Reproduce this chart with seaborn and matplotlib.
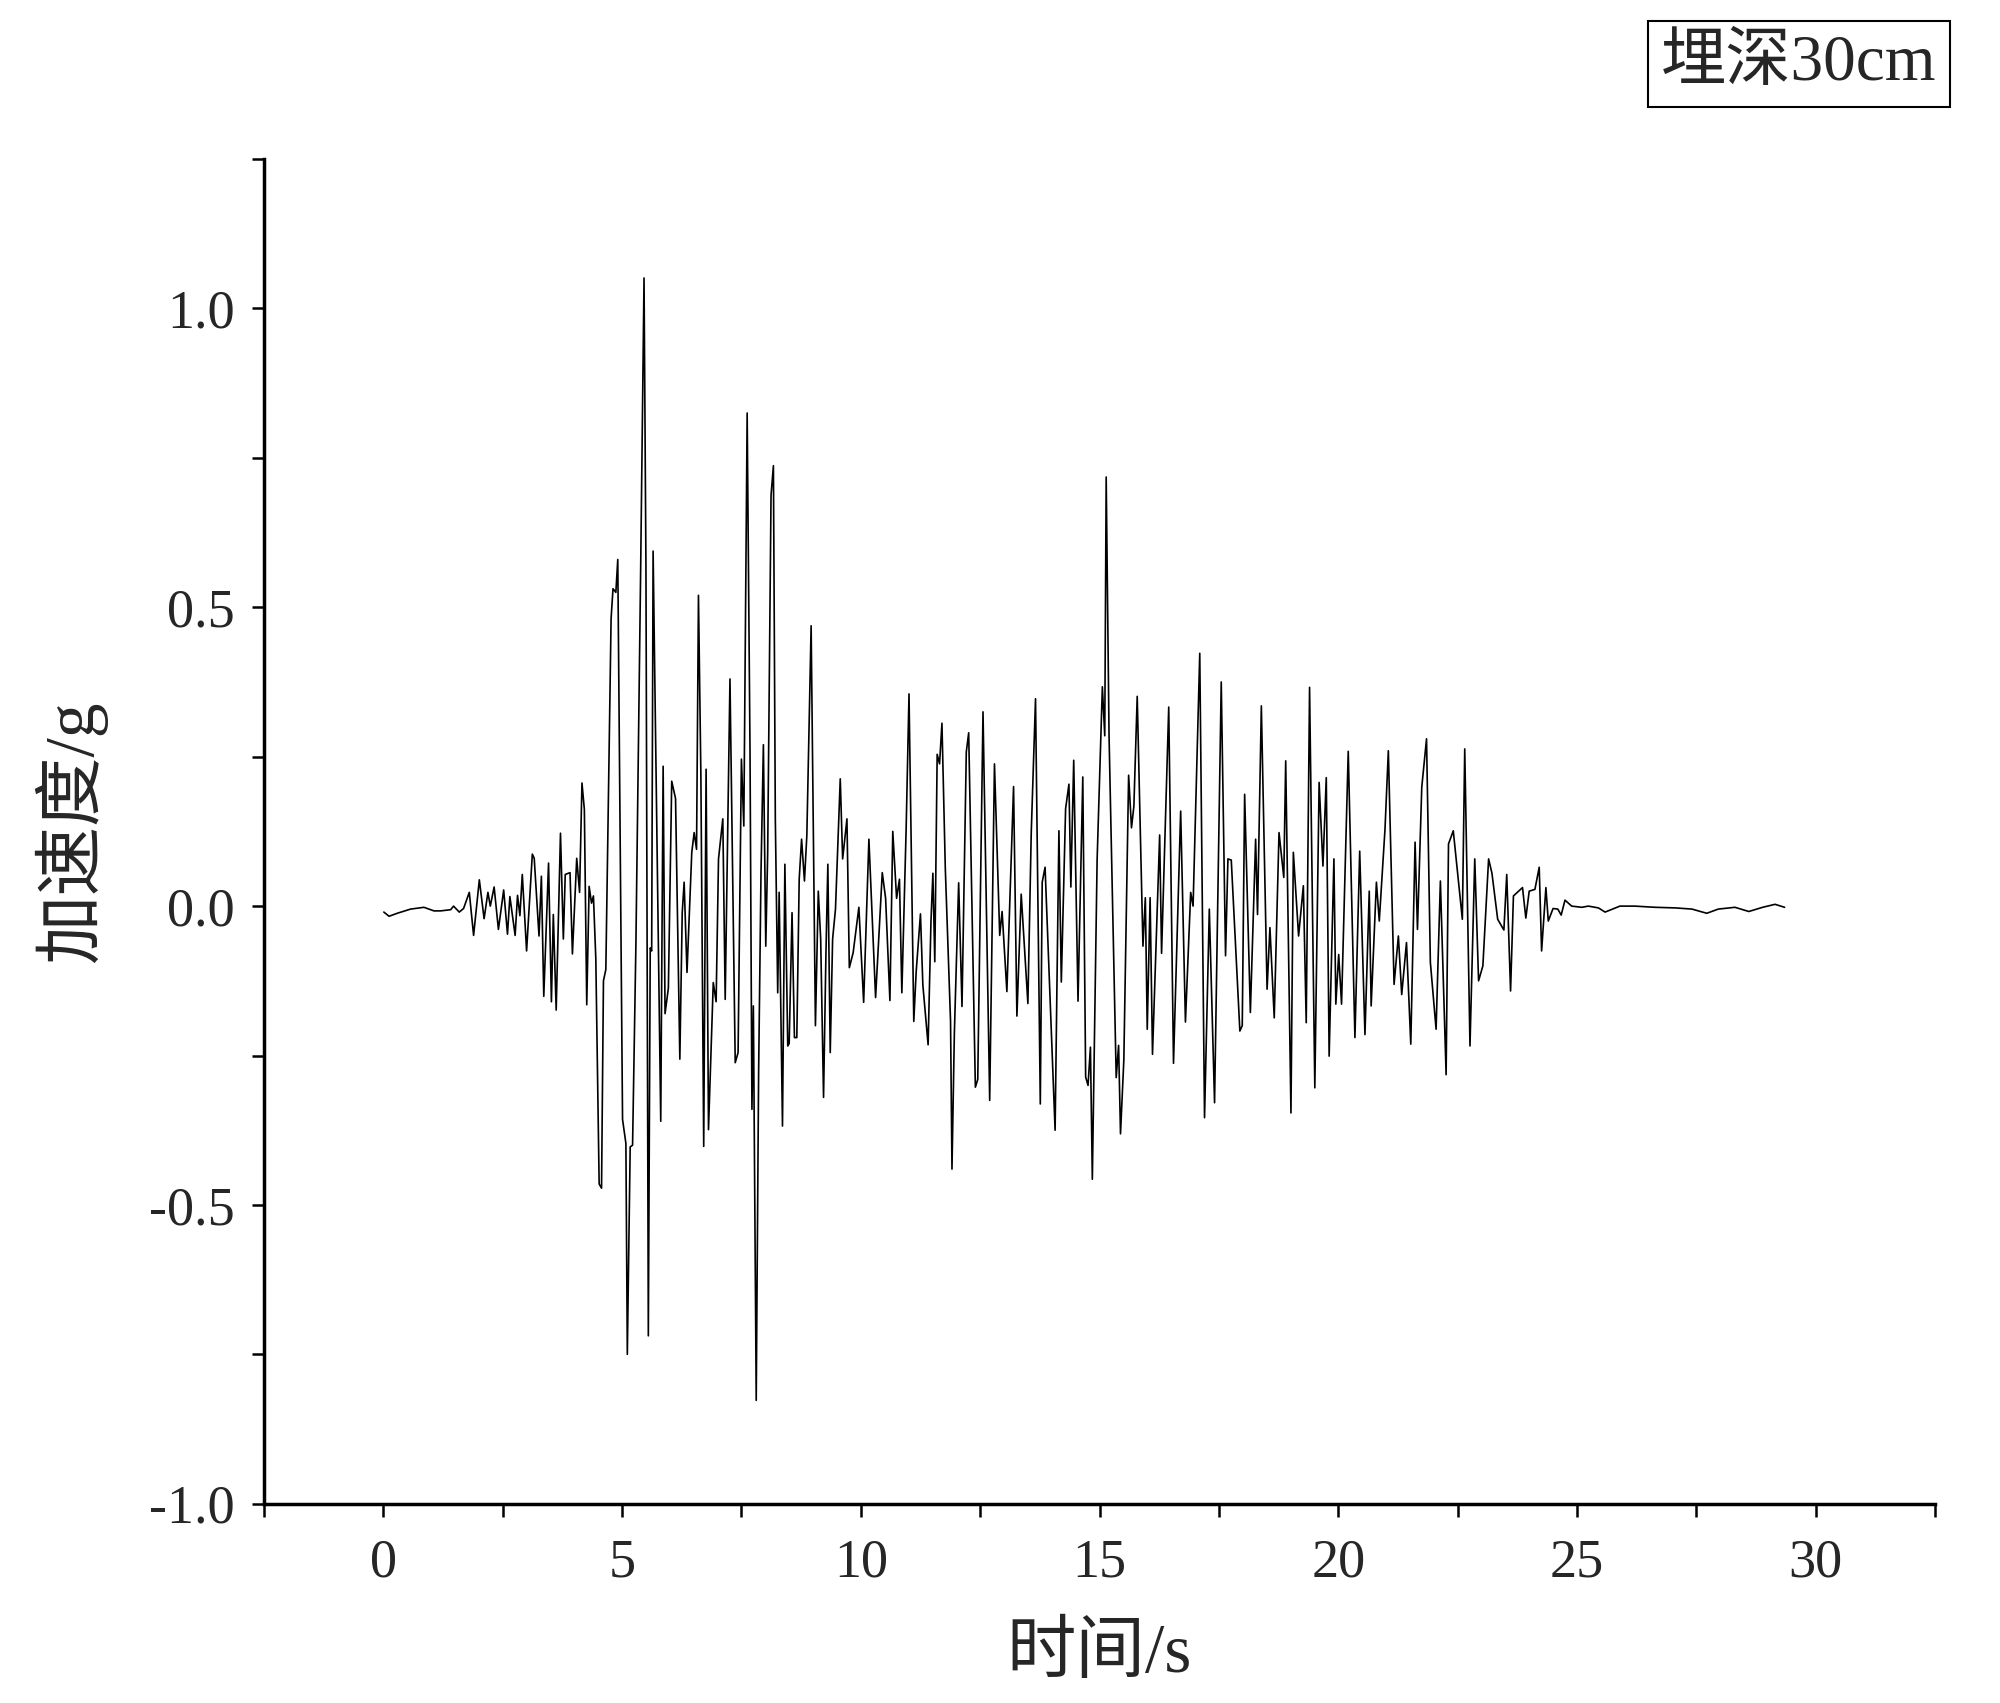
import numpy as np
import pandas as pd
import seaborn as sns
import matplotlib.pyplot as plt
from matplotlib.ticker import MultipleLocator, FormatStrFormatter

# Acceleration record (buried depth 30 cm)
time_s = [
    0.01, 0.12, 0.29, 0.57, 0.85, 1.06, 1.20, 1.41, 1.47, 1.59, 1.68, 1.80, 1.89, 2.01, 2.11,
    2.19, 2.24, 2.32, 2.41, 2.52, 2.60, 2.65, 2.76, 2.81, 2.86, 2.91, 3.00, 3.12, 3.16, 3.26,
    3.31, 3.36, 3.46, 3.52, 3.56, 3.62, 3.71, 3.77, 3.81, 3.91, 3.96, 4.05, 4.11, 4.16, 4.21,
    4.26, 4.31, 4.36, 4.40, 4.45, 4.52, 4.57, 4.61, 4.66, 4.77, 4.81, 4.87, 4.91, 5.01, 5.08,
    5.11, 5.17, 5.22, 5.29, 5.39, 5.46, 5.50, 5.55, 5.59, 5.62, 5.65, 5.81, 5.86, 5.90, 5.97,
    6.04, 6.12, 6.21, 6.26, 6.30, 6.36, 6.46, 6.51, 6.56, 6.60, 6.65, 6.71, 6.76, 6.81, 6.91,
    6.97, 7.02, 7.11, 7.16, 7.26, 7.37, 7.43, 7.50, 7.55, 7.62, 7.68, 7.72, 7.75, 7.81, 7.86,
    7.91, 7.96, 8.01, 8.05, 8.12, 8.17, 8.21, 8.26, 8.29, 8.36, 8.41, 8.47, 8.50, 8.56, 8.61,
    8.66, 8.71, 8.76, 8.82, 8.87, 8.96, 9.05, 9.11, 9.16, 9.22, 9.27, 9.31, 9.36, 9.41, 9.47,
    9.57, 9.62, 9.71, 9.76, 9.84, 9.96, 10.06, 10.17, 10.31, 10.45, 10.52, 10.61, 10.67, 10.75, 10.81,
    10.86, 10.95, 11.01, 11.11, 11.16, 11.25, 11.30, 11.41, 11.47, 11.51, 11.55, 11.60, 11.65, 11.70, 11.77,
    11.88, 11.91, 11.96, 12.05, 12.12, 12.21, 12.26, 12.40, 12.45, 12.56, 12.70, 12.80, 12.91, 12.96, 13.06,
    13.20, 13.27, 13.36, 13.50, 13.57, 13.66, 13.76, 13.80, 13.86, 14.07, 14.15, 14.20, 14.29, 14.36, 14.40,
    14.46, 14.55, 14.65, 14.71, 14.76, 14.81, 14.85, 14.95, 15.06, 15.11, 15.14, 15.20, 15.35, 15.40, 15.44,
    15.51, 15.61, 15.67, 15.72, 15.79, 15.91, 15.96, 16.00, 16.06, 16.11, 16.26, 16.30, 16.45, 16.55, 16.70,
    16.80, 16.91, 16.96, 17.10, 17.20, 17.30, 17.41, 17.55, 17.64, 17.69, 17.76, 17.94, 17.99, 18.04, 18.16,
    18.27, 18.31, 18.39, 18.51, 18.57, 18.66, 18.76, 18.86, 18.90, 19.01, 19.06, 19.17, 19.27, 19.33, 19.40,
    19.51, 19.60, 19.68, 19.75, 19.81, 19.91, 19.95, 20.01, 20.07, 20.21, 20.35, 20.45, 20.56, 20.65, 20.69,
    20.80, 20.86, 20.98, 21.05, 21.17, 21.26, 21.33, 21.43, 21.52, 21.61, 21.66, 21.75, 21.85, 21.93, 22.05,
    22.14, 22.26, 22.31, 22.41, 22.60, 22.65, 22.76, 22.86, 22.94, 23.03, 23.15, 23.22, 23.34, 23.47, 23.53,
    23.61, 23.67, 23.86, 23.93, 24.00, 24.12, 24.21, 24.26, 24.35, 24.40, 24.50, 24.60, 24.67, 24.75, 24.89,
    25.10, 25.24, 25.45, 25.59, 25.90, 26.21, 26.64, 27.06, 27.41, 27.72, 27.96, 28.31, 28.60, 28.89, 29.15,
    29.35,
]
accel_g = [
    -0.010, -0.017, -0.012, -0.005, -0.002, -0.008, -0.008, -0.006, 0.000, -0.010, -0.004, 0.023, -0.049, 0.044, -0.021,
    0.023, 0.000, 0.032, -0.039, 0.027, -0.047, 0.016, -0.049, 0.018, -0.016, 0.053, -0.075, 0.087, 0.080, -0.050,
    0.050, -0.151, 0.072, -0.160, -0.014, -0.174, 0.122, -0.055, 0.053, 0.056, -0.080, 0.080, 0.023, 0.206, 0.162,
    -0.165, 0.033, 0.005, 0.017, -0.088, -0.465, -0.472, -0.125, -0.106, 0.481, 0.531, 0.525, 0.580, -0.357, -0.397,
    -0.750, -0.403, -0.400, -0.063, 0.568, 1.051, 0.570, -0.719, -0.070, -0.075, 0.594, -0.360, 0.234, -0.180, -0.137,
    0.209, 0.180, -0.256, -0.011, 0.040, -0.111, 0.090, 0.123, 0.095, 0.520, 0.224, -0.402, 0.229, -0.374, -0.128,
    -0.160, 0.079, 0.146, -0.156, 0.380, -0.262, -0.245, 0.246, 0.134, 0.825, 0.257, -0.340, -0.167, -0.827, -0.279,
    0.056, 0.270, -0.067, 0.090, 0.687, 0.737, 0.146, -0.145, 0.023, -0.368, 0.070, -0.234, -0.230, -0.011, -0.220,
    -0.220, 0.045, 0.112, 0.042, 0.118, 0.469, -0.200, 0.025, -0.055, -0.320, -0.080, 0.070, -0.245, -0.055, -0.005,
    0.213, 0.079, 0.146, -0.103, -0.078, -0.002, -0.161, 0.112, -0.153, 0.056, 0.013, -0.158, 0.125, 0.013, 0.045,
    -0.145, 0.129, 0.355, -0.193, -0.110, -0.013, -0.132, -0.232, -0.026, 0.055, -0.093, 0.254, 0.238, 0.306, 0.064,
    -0.193, -0.440, -0.213, 0.039, -0.168, 0.258, 0.290, -0.303, -0.290, 0.325, -0.325, 0.238, -0.049, -0.009, -0.143,
    0.200, -0.184, 0.020, -0.163, 0.122, 0.347, -0.331, 0.040, 0.065, -0.375, 0.126, -0.127, 0.163, 0.204, 0.032,
    0.244, -0.159, 0.216, -0.286, -0.300, -0.236, -0.457, 0.077, 0.367, 0.285, 0.718, 0.285, -0.287, -0.233, -0.381,
    -0.257, 0.219, 0.131, 0.167, 0.351, -0.067, 0.014, -0.206, 0.014, -0.248, 0.119, -0.079, 0.333, -0.263, 0.159,
    -0.194, 0.023, 0.000, 0.423, -0.354, -0.005, -0.329, 0.375, -0.083, 0.079, 0.077, -0.209, -0.200, 0.187, -0.178,
    0.112, -0.014, 0.335, -0.139, -0.036, -0.187, 0.123, 0.048, 0.243, -0.346, 0.090, -0.050, 0.034, -0.195, 0.366,
    -0.304, 0.207, 0.067, 0.215, -0.251, 0.079, -0.164, -0.081, -0.164, 0.259, -0.220, 0.092, -0.215, 0.025, -0.167,
    0.040, -0.025, 0.129, 0.260, -0.131, -0.050, -0.148, -0.061, -0.231, 0.107, -0.039, 0.199, 0.280, -0.094, -0.206,
    0.042, -0.282, 0.104, 0.126, -0.022, 0.263, -0.234, 0.079, -0.125, -0.100, 0.079, 0.055, -0.022, -0.040, 0.053,
    -0.142, 0.017, 0.031, -0.020, 0.025, 0.028, 0.065, -0.075, 0.031, -0.025, -0.004, -0.005, -0.015, 0.010, 0.000,
    -0.002, 0.000, -0.003, -0.010, 0.000, 0.000, -0.002, -0.003, -0.005, -0.012, -0.005, -0.002, -0.009, -0.002, 0.003,
    -0.002,
]

df = pd.DataFrame({"time": time_s, "accel": accel_g})

sns.set_style("ticks")
plt.rcParams["font.family"] = ["Liberation Serif", "Noto Sans CJK SC"]
plt.rcParams["axes.unicode_minus"] = False

fig = plt.figure(figsize=(20, 17.03), dpi=100)
ax = fig.add_axes([0.132, 0.117, 0.8355, 0.7896])

sns.lineplot(data=df, x="time", y="accel", sort=False, estimator=None,
             color="black", linewidth=1.2, ax=ax)

ax.set_xlim(-2.5, 32.5)
ax.set_ylim(-1.0, 1.25)
ax.xaxis.set_major_locator(MultipleLocator(5))
ax.xaxis.set_minor_locator(MultipleLocator(2.5))
ax.yaxis.set_major_locator(MultipleLocator(0.5))
ax.yaxis.set_minor_locator(MultipleLocator(0.25))
ax.yaxis.set_major_formatter(FormatStrFormatter("%.1f"))

ax.tick_params(which="major", direction="out", length=9, width=1.8, labelsize=39, pad=12, color="black")
ax.tick_params(which="minor", direction="out", length=9, width=1.8, color="black")
ax.tick_params(axis="x", pad=16)

sns.despine(ax=ax)
for s in ["left", "bottom"]:
    ax.spines[s].set_linewidth(2.5)
    ax.spines[s].set_color("black")

ax.set_xlabel("时间/s", fontsize=50, labelpad=24)
ax.set_ylabel("加速度/g", fontsize=50, labelpad=30)

fig.text(0.8995, 0.9625, "埋深30cm", ha="center", va="center", fontsize=47,
         bbox=dict(boxstyle="square,pad=0.2", fc="white", ec="black", lw=1.5))

fig.savefig("out.png", dpi=100)
